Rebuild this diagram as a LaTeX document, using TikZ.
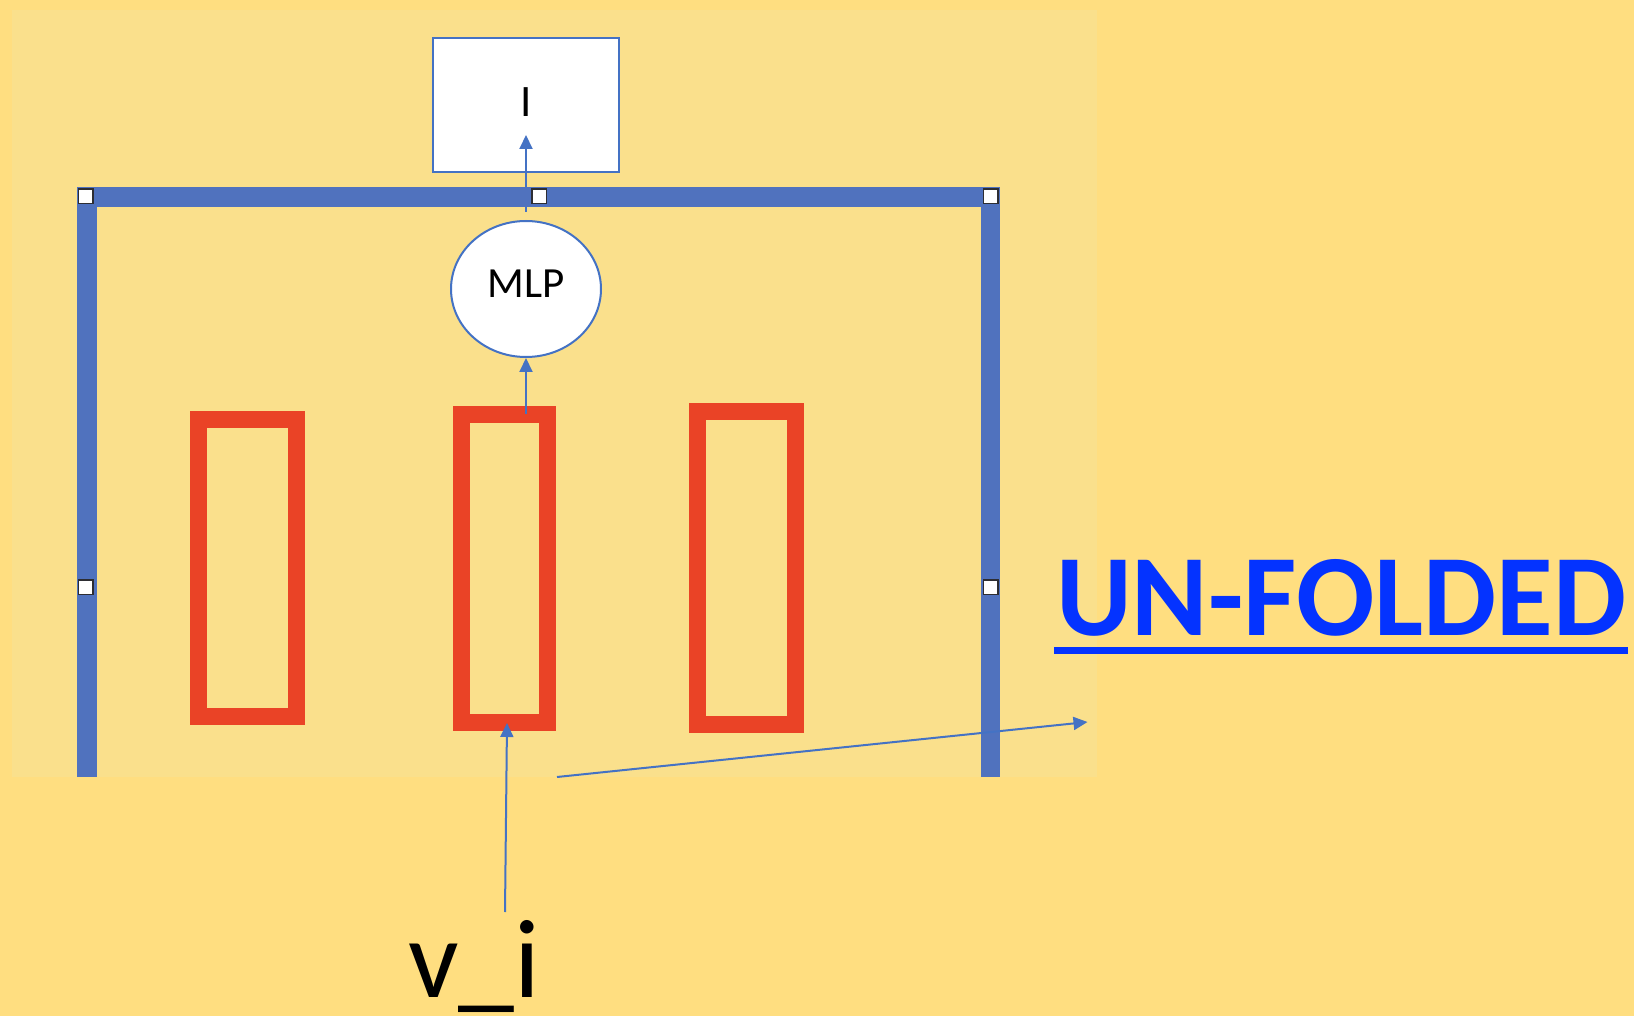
\documentclass[tikz,border=0pt]{standalone}
\usepackage{fontspec}
\setmainfont{Carlito}
\usetikzlibrary{shapes.geometric,arrows.meta}
\definecolor{bgout}{RGB}{255,222,128}
\definecolor{bgpanel}{RGB}{250,224,140}
\definecolor{redbox}{RGB}{234,67,38}
\definecolor{frameblue}{RGB}{80,114,190}
\definecolor{arrowblue}{RGB}{68,114,196}
\definecolor{titleblue}{RGB}{4,51,255}
\definecolor{handleborder}{RGB}{45,45,50}
\begin{document}
\begin{tikzpicture}[x=1pt,y=-1pt,
  redrect/.style={draw=redbox,line width=17pt,rectangle,inner sep=0pt,outer sep=0pt},
  arr/.style={draw=arrowblue,line width=2pt,-{Triangle[length=14pt,width=13pt]}},
  handle/.style={draw=handleborder,fill=white,line width=1.5pt,rectangle,minimum size=14.5pt,inner sep=0pt},
  whitebox/.style={draw=arrowblue,fill=white,line width=2pt,inner sep=0pt},
  bar/.style={fill=frameblue}
]
\useasboundingbox (0,0) rectangle (1634,1016);
\fill[bgout] (0,0) rectangle (1634,1016);
\fill[bgpanel] (11.7,10) rectangle (1097,777.3);

% red rectangles
\node[redrect,minimum width=98.3pt,minimum height=297pt] (left) at (247.65,568.3) {};
\node[redrect,minimum width=86.6pt,minimum height=308.3pt] (mid) at (504.5,568.35) {};
\node[redrect,minimum width=98.6pt,minimum height=312.7pt] (right) at (746.5,568.15) {};

% output box and MLP
\node[whitebox,minimum width=186pt,minimum height=134pt,text depth=6pt,
      font={\fontsize{45}{54}\selectfont}] (out) at (526,105.5) {I};
\node[whitebox,ellipse,minimum width=150pt,minimum height=136pt,text depth=11pt,
      font={\fontsize{43}{50}\selectfont}] (mlp) at (526,289) {MLP};

\coordinate (itip) at (526,135);
\draw[arr] ([yshift=8pt]mlp.north) -- (itip);

% blue frame
\fill[bar] (76.7,187.3) rectangle (1000.4,207.3);
\fill[bar] (76.7,187.3) rectangle (96.5,777.3);
\fill[bar] (980.5,187.3) rectangle (1000.4,777.3);

% arrows
\draw[arr] (mid.north -| mlp.south) -- (mlp.south);
\coordinate (vstart) at (505,912);
\coordinate (vtip) at (507,723);
\draw[arr] (vstart) -- (vtip);
\coordinate (dstart) at (557,777);
\coordinate (dtip) at (1087.5,722);
\draw[arr] (dstart) -- (dtip);

% handles
\node[handle] (h1) at (85.7,196.5) {};
\node[handle] (h2) at (539,196.5) {};
\node[handle] (h3) at (990.5,196.5) {};
\node[handle] (h4) at (85.7,587) {};
\node[handle] (h5) at (990.5,587) {};

% texts
\node[anchor=base west,inner sep=0pt,font={\fontsize{112}{120}\selectfont}] (vi) at (408,997) {v\_i};
\node[anchor=base west,inner sep=0pt,text=titleblue,font={\bfseries\fontsize{116}{124}\selectfont}] (unf) at (1056,635) {UN-FOLDED};
\fill[titleblue] (1054,646.7) rectangle (1628,654.3);
\end{tikzpicture}
\end{document}
